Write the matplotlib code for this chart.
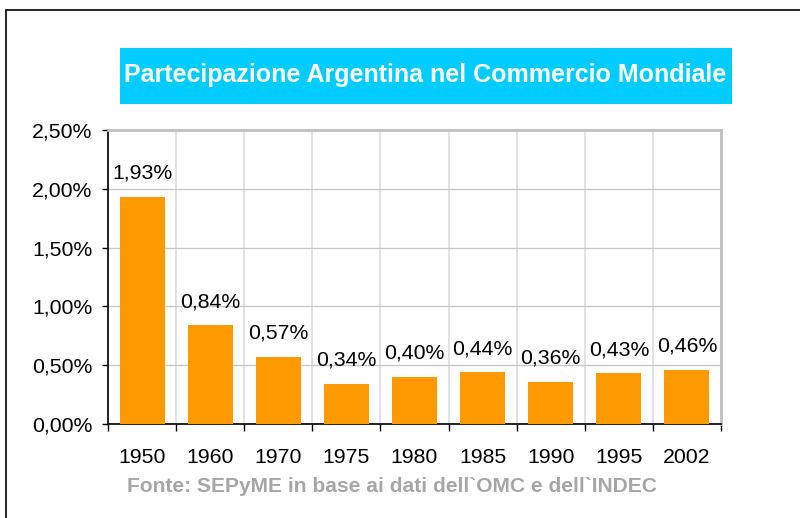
import numpy as np
import matplotlib.pyplot as plt
from matplotlib.patches import Rectangle

# data
years = ["1950", "1960", "1970", "1975", "1980", "1985", "1990", "1995", "2002"]
share = [1.93, 0.84, 0.57, 0.34, 0.40, 0.44, 0.36, 0.43, 0.46]
y_ticks = [0.0, 0.5, 1.0, 1.5, 2.0, 2.5]

title = "Partecipazione Argentina nel Commercio Mondiale"
source = "Fonte: SEPyME in base ai dati dell`OMC e dell`INDEC"

plt.rcParams["font.family"] = ["Liberation Sans", "DejaVu Sans"]

fig = plt.figure(figsize=(8, 5.18), dpi=100)

# black frame around the slide, partly cut off on right and bottom
fig.patches.append(Rectangle((6 / 800, -0.1), 1.1, (518 - 10) / 518 + 0.1,
                             transform=fig.transFigure, fill=False,
                             edgecolor="black", linewidth=1.2))

ax = fig.add_axes([108 / 800, (518 - 424) / 518, (721 - 108) / 800, (424 - 130) / 518])

x = np.arange(len(years))
ax.bar(x, share, width=0.66, color="#FF9900", zorder=3)

for xi, v in zip(x, share):
    ax.annotate(f"{v:.2f}%".replace(".", ","), (xi, v), xytext=(0, 17),
                textcoords="offset points", ha="center", va="center",
                fontsize=15.3)

ax.set_xlim(-0.5, len(years) - 0.5)
ax.set_ylim(0, 2.5)

ax.set_yticks(y_ticks)
ax.set_yticklabels([f"{t:.2f}%".replace(".", ",") for t in y_ticks], fontsize=15.3)

# tick marks and vertical grid at category boundaries, labels at centres
ax.set_xticks(np.arange(-0.5, len(years)), labels=[""] * (len(years) + 1))
ax.set_xticks(x, labels=years, minor=True)
ax.tick_params(axis="x", which="major", length=5, width=1, direction="out")
ax.tick_params(axis="x", which="minor", length=0, pad=17, labelsize=15.3)
ax.tick_params(axis="y", length=4, width=1, pad=7)

ax.grid(axis="y", color="#C8C8C8", linewidth=1, zorder=0)
ax.grid(axis="x", which="major", color="#DDDDDD", linewidth=1.2, zorder=0)

for side in ["top", "right"]:
    ax.spines[side].set_color("#C0C0C0")
    ax.spines[side].set_linewidth(2)
for side in ["left", "bottom"]:
    ax.spines[side].set_color("black")
    ax.spines[side].set_linewidth(1.2)

# cyan title box
fig.patches.append(Rectangle((120 / 800, (518 - 104) / 518), (732 - 120) / 800, 56 / 518,
                             transform=fig.transFigure, facecolor="#00CCFF",
                             edgecolor="none"))
fig.text(425 / 800, (518 - 75) / 518, title, ha="center", va="center",
         color="white", fontsize=18, fontweight="bold")

fig.text(392 / 800, (518 - 486) / 518, source, ha="center", va="center",
         color="#A6A6A6", fontsize=15.1, fontweight="bold")

fig.savefig("out.png", dpi=100)
